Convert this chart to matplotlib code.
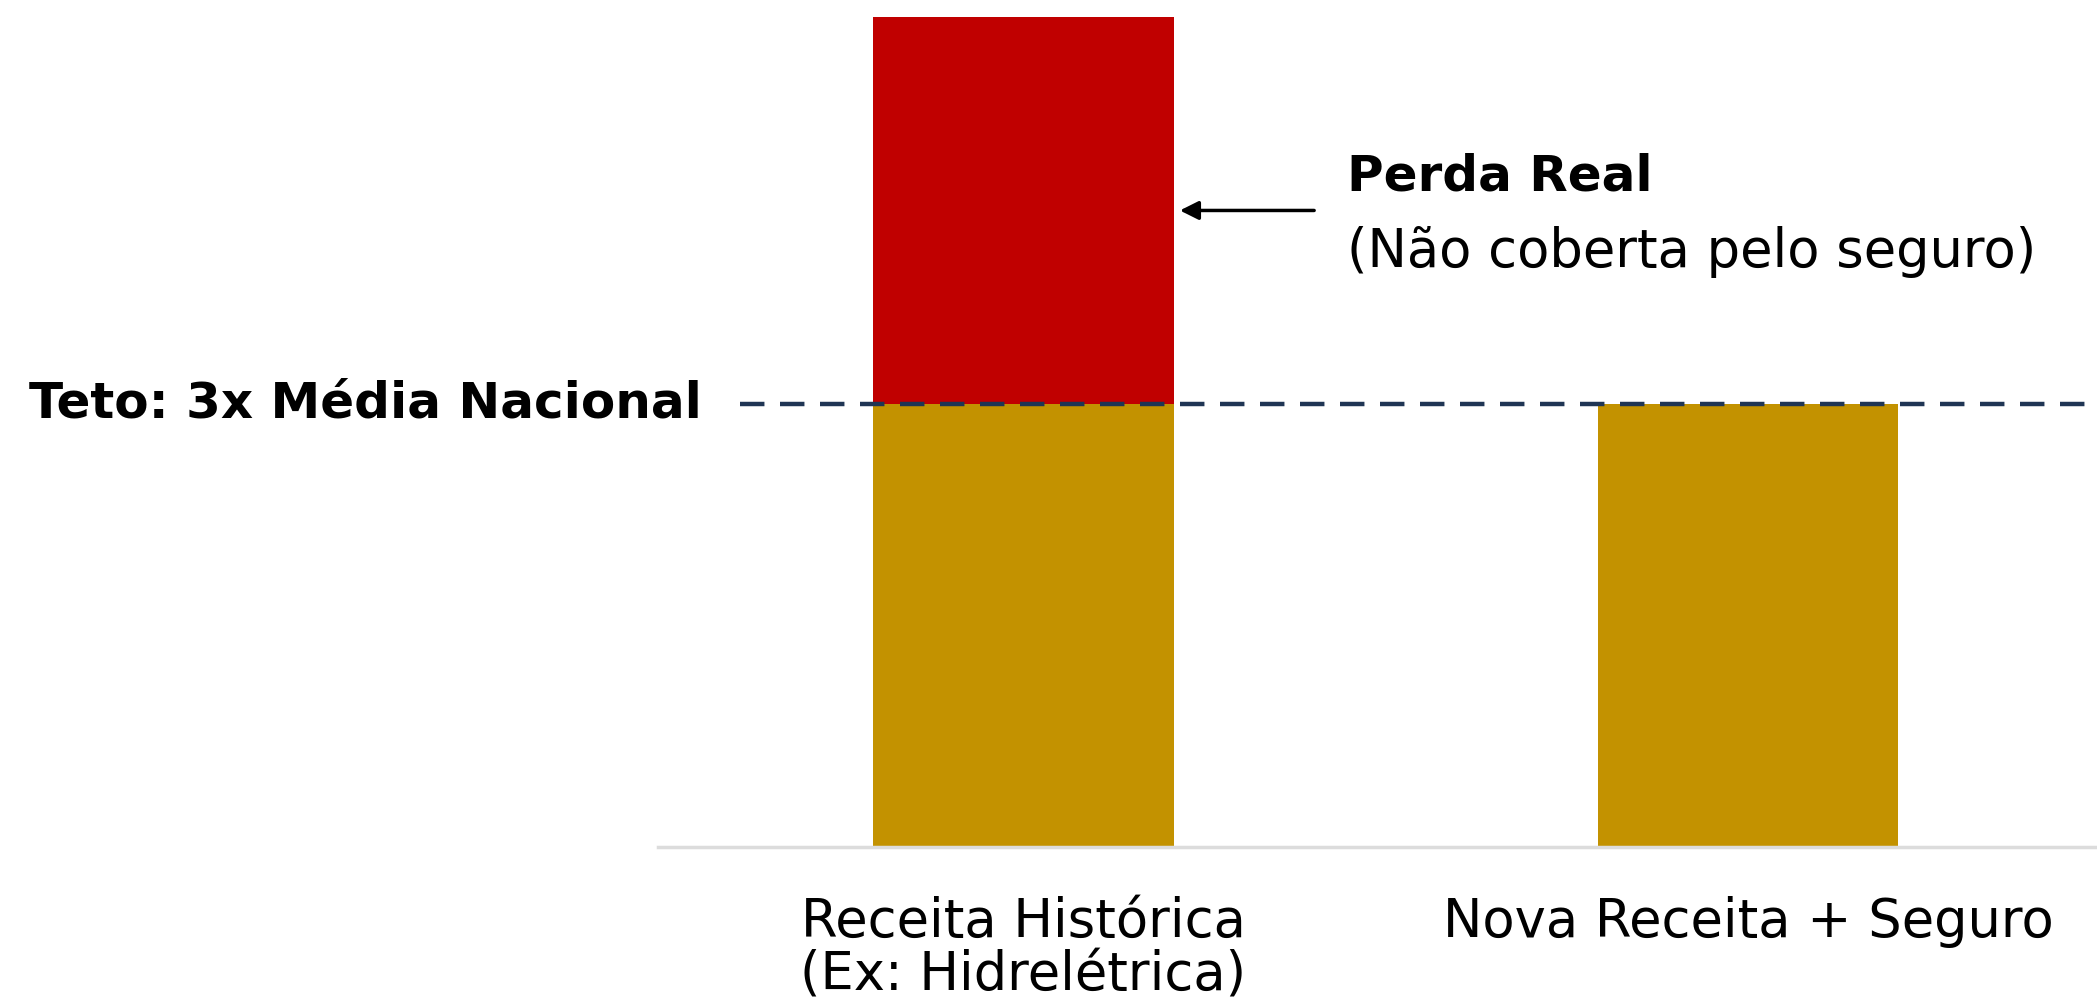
import matplotlib.pyplot as plt

# values (units of the national average)
categories = ["Receita Histórica\n(Ex: Hidrelétrica)", "Nova Receita + Seguro"]
covered = [3.0, 3.0]          # part up to the cap
loss = [2.62, 0.0]            # real loss above the cap
cap = 3.0

plt.rcParams['font.family'] = ['DejaVu Sans']

fig = plt.figure(figsize=(20.97, 10.08), dpi=100)
ax = fig.add_axes([0, 0, 1, 1])
ax.set_xlim(-1.4127, 1.4817)
ax.set_ylim(-1.090, 5.735)
ax.axis('off')

x = range(len(categories))
ax.bar(x, covered, width=0.415, color='#C39200', zorder=2)
ax.bar(x, loss, bottom=covered, width=0.415, color='#C00000', zorder=2)

# baseline
ax.axhline(0, xmin=0.314, xmax=1, color='#dcdcdc', lw=2.5, zorder=3)

# cap line
ax.axhline(cap, xmin=0.353, xmax=1, color='#1f3554', lw=3.2,
           linestyle=(0, (5.5, 3.5)), zorder=4)
ax.text(-0.444, cap, "Teto: 3x Média Nacional", ha='right', va='center',
        fontsize=36, fontweight='bold', color='black')

# annotation
ax.annotate("", xy=(0.212, 4.31), xytext=(0.405, 4.31),
            arrowprops=dict(arrowstyle='-|>', color='black', lw=2.5,
                            mutation_scale=28))
ax.text(0.446, 4.54, "Perda Real", ha='left', va='center',
        fontsize=36, fontweight='bold')
ax.text(0.446, 4.03, "(Não coberta pelo seguro)", ha='left', va='center',
        fontsize=38)

for i, lab in enumerate(categories):
    ax.text(i, -0.33, lab, ha='center', va='top', fontsize=38,
            linespacing=1.02)

fig.savefig('out.png', dpi=100, facecolor='white')
